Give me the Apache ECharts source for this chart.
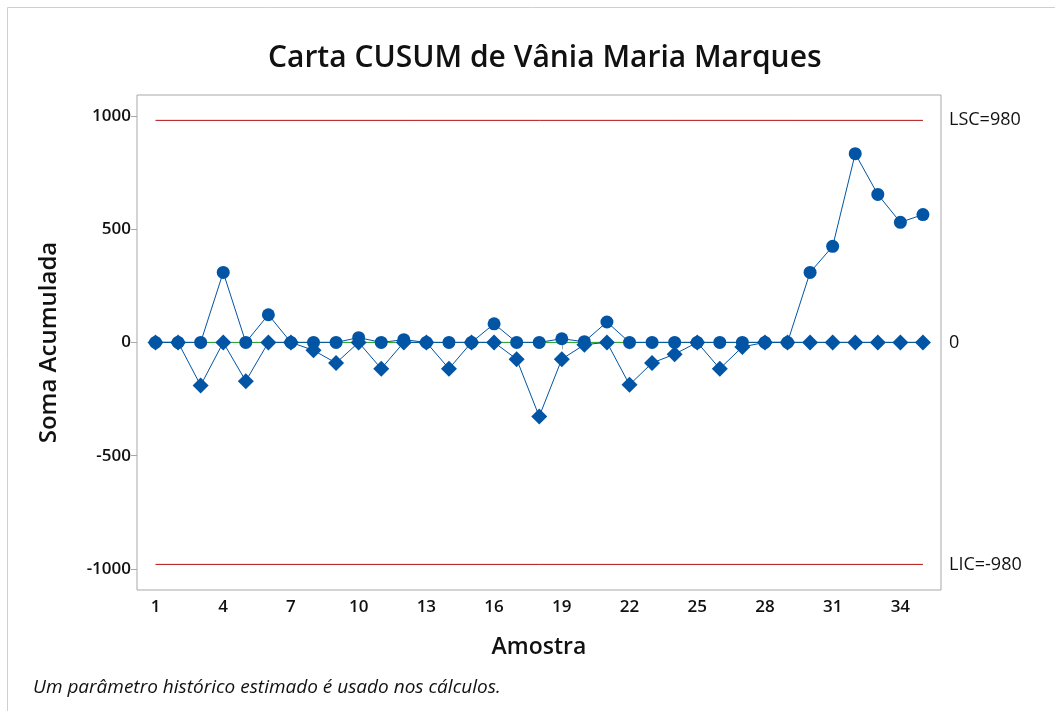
<!DOCTYPE html>
<html>
<head>
<meta charset="utf-8">
<title>Carta CUSUM</title>
<script src="https://cdn.jsdelivr.net/npm/echarts@6/dist/echarts.min.js"></script>
<style>
  html, body { margin: 0; padding: 0; background: #ffffff; }
  #chart { width: 1055px; height: 711px; }
</style>
</head>
<body>
<div id="chart"></div>
<script>
// Sample numbers 1..35
const samples = [1,2,3,4,5,6,7,8,9,10,11,12,13,14,15,16,17,18,19,20,21,22,23,24,25,26,27,28,29,30,31,32,33,34,35];
// Upper cumulative sum (circles)
const upperCusum = [0,0,0,309,0,122,0,0,0,21,0,12,0,0,0,82,0,0,16,3,90,0,0,0,0,0,0,0,0,309,424,833,653,530,564];
// Lower cumulative sum (diamonds)
const lowerCusum = [0,0,-190,0,-171,0,0,-35,-91,0,-116,0,0,-116,0,0,-74,-327,-74,-10,0,-187,-91,-52,0,-116,-20,0,0,0,0,0,0,0,0];
// Control limits and centre line
const ucl = 980;
const lcl = -980;
const center = 0;
// Tick labels
const xTicks = [1,4,7,10,13,16,19,22,25,28,31,34];
const yTicks = [-1000,-500,0,500,1000];

const blue = '#0254A4';
const font = '"Open Sans", "Noto Sans", sans-serif';

const pairs = arr => arr.map((v, i) => [samples[i], v]);
const first = samples[0], last = samples[samples.length - 1];

const chart = echarts.init(document.getElementById('chart'), null, { renderer: 'canvas' });

chart.setOption({
  backgroundColor: '#ffffff',
  animation: false,
  title: {
    text: 'Carta CUSUM de Vânia Maria Marques',
    left: 263,
    top: 38,
    textStyle: { fontFamily: font, fontSize: 30, fontWeight: 600, color: '#111' }
  },
  graphic: [
    {
      type: 'rect',
      shape: { x: 7.5, y: 7.5, width: 1100, height: 800 },
      style: { fill: 'none', stroke: '#cfcfcf', lineWidth: 1 },
      silent: true
    },
    {
      type: 'text',
      left: 33,
      top: 678,
      style: {
        text: 'Um parâmetro histórico estimado é usado nos cálculos.',
        font: 'italic 19px ' + font,
        fill: '#111'
      }
    }
  ],
  grid: {
    left: 137, top: 95, right: 114, bottom: 121,
    show: true, borderColor: '#a8a8a8', borderWidth: 1, backgroundColor: '#ffffff'
  },
  xAxis: {
    type: 'value',
    min: 0.18, max: 35.8,
    name: 'Amostra',
    nameLocation: 'middle',
    nameGap: 46,
    nameTextStyle: { fontFamily: font, fontSize: 23, fontWeight: 600, color: '#111' },
    axisLine: { show: false },
    splitLine: { show: false },
    axisTick: { show: true, length: 7, lineStyle: { color: '#a8a8a8' }, customValues: xTicks },
    axisLabel: { fontFamily: font, fontSize: 17, fontWeight: 600, color: '#111', margin: 9, customValues: xTicks }
  },
  yAxis: [
    {
      type: 'value',
      min: -1093, max: 1092,
      name: 'Soma Acumulada',
      nameLocation: 'middle',
      nameGap: 76,
      nameTextStyle: { fontFamily: font, fontSize: 24, fontWeight: 600, color: '#111' },
      axisLine: { show: false },
      splitLine: { show: false },
      axisTick: { show: true, length: 6, lineStyle: { color: '#a8a8a8' }, customValues: yTicks },
      axisLabel: {
        fontFamily: font, fontSize: 17, fontWeight: 600, color: '#111', margin: 6,
        customValues: yTicks,
        formatter: v => String(v)
      }
    },
    {
      type: 'value',
      position: 'right',
      min: -1093, max: 1092,
      axisLine: { show: false },
      splitLine: { show: false },
      axisTick: { show: false },
      axisLabel: {
        fontFamily: font, fontSize: 18, color: '#111', margin: 8,
        customValues: [lcl, center, ucl],
        formatter: v => v === ucl ? 'LSC=' + ucl : (v === lcl ? 'LIC=' + lcl : String(center))
      }
    }
  ],
  series: [
    {
      name: 'Centro',
      type: 'line',
      data: [[first, center], [last, center]],
      symbol: 'none',
      lineStyle: { color: '#1a9a1a', width: 1 },
      z: 1
    },
    {
      name: 'LSC',
      type: 'line',
      data: [[first, ucl], [last, ucl]],
      symbol: 'none',
      lineStyle: { color: '#b01010', width: 1 },
      z: 1
    },
    {
      name: 'LIC',
      type: 'line',
      data: [[first, lcl], [last, lcl]],
      symbol: 'none',
      lineStyle: { color: '#b01010', width: 1 },
      z: 1
    },
    {
      name: 'Superior',
      type: 'line',
      data: pairs(upperCusum),
      symbol: 'circle',
      symbolSize: 13,
      showAllSymbol: true,
      itemStyle: { color: blue },
      lineStyle: { color: blue, width: 1 },
      z: 3
    },
    {
      name: 'Inferior',
      type: 'line',
      data: pairs(lowerCusum),
      symbol: 'diamond',
      symbolSize: 16,
      showAllSymbol: true,
      itemStyle: { color: blue },
      lineStyle: { color: blue, width: 1 },
      z: 4
    }
  ]
});
</script>
</body>
</html>
